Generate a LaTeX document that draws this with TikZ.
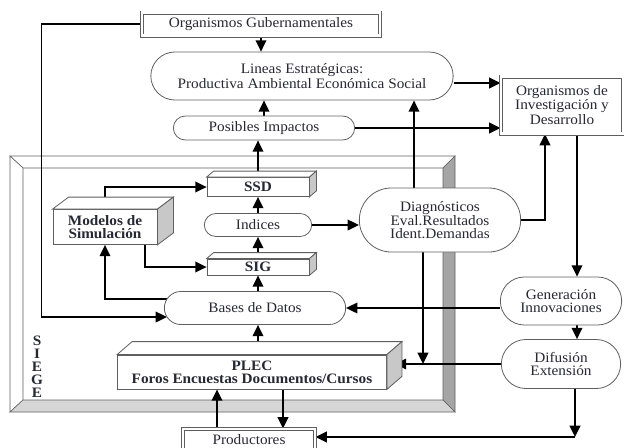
\documentclass[tikz,border=0pt]{standalone}
\usepackage{fontspec}
\setmainfont{Liberation Serif}[FakeStretch=1.06]
\usetikzlibrary{shapes.misc, arrows.meta, calc, backgrounds}
\definecolor{inktext}{RGB}{40,40,52}
\definecolor{edgegray}{RGB}{95,95,95}
\definecolor{sidegray}{RGB}{200,200,200}
\definecolor{bargray}{RGB}{165,165,165}
\definecolor{basegray}{RGB}{214,214,214}
\newlength{\pxu}
\setlength{\pxu}{0.75pt}
\newcommand{\diagfont}{\fontsize{10.8}{9.8}\selectfont}
% front face is the node, top and side faces are added here
\newcommand{\cubesides}[3]{%
  \draw[draw=edgegray, fill=white, line width=0.6pt] (#1.north west) -- ++(#2,-#3) -- ($(#1.north east)+(#2,-#3)$) -- (#1.north east) -- cycle;
  \draw[draw=edgegray, fill=sidegray, line width=0.6pt] (#1.north east) -- ++(#2,-#3) -- ($(#1.south east)+(#2,-#3)$) -- (#1.south east) -- cycle;
}
\tikzset{
  arr/.style={-{Triangle[length=8.5pt,width=8pt]}, line width=1.2pt},
  pill/.style={rounded rectangle, draw=edgegray, fill=white, line width=0.6pt, inner sep=1pt, align=center, text=inktext, font=\diagfont},
  dblbox/.style={draw=edgegray, double=white, double distance=1.6pt, line width=0.7pt, fill=white, inner sep=1pt, align=center, text=inktext, font=\diagfont},
  cubefront/.style={draw=edgegray, fill=white, line width=0.6pt, inner sep=1pt, align=center, text=inktext, font=\diagfont\bfseries},
}
\begin{document}
\begin{tikzpicture}[x=\pxu, y=-\pxu]
    \useasboundingbox (0,0) rectangle (624,447);

    % SIEGE frame
    \begin{scope}[on background layer]
        \draw[edgegray, fill=white] (10,156) -- (455,156) -- (443,168) -- (23,168) -- cycle;
        \draw[edgegray, fill=white] (10,156) -- (23,168) -- (23,400) -- (10,412) -- cycle;
        \draw[edgegray, fill=bargray] (455,156) -- (455,412) -- (443,400) -- (443,168) -- cycle;
        \draw[edgegray, fill=basegray] (10,412) -- (455,412) -- (443,400) -- (23,400) -- cycle;
    \end{scope}
    \node[font=\diagfont\bfseries, text=inktext, align=center, inner sep=0pt] (siege) at (37,367) {S\\I\\E\\G\\E};

    \node[dblbox, minimum width=238\pxu, minimum height=23\pxu] (orggub) at (261,24) {Organismos Gubernamentales};
    \node[pill, minimum width=305\pxu, minimum height=48\pxu] (lineas) at (302,76) {Lineas Estratégicas:\\Productiva Ambiental Económica Social};
    \node[pill, minimum width=184\pxu, minimum height=24\pxu] (posibles) at (264,128) {Posibles Impactos};
    \node[dblbox, minimum width=122\pxu, minimum height=57\pxu] (orginv) at (562,105) {Organismos de\\Investigación y\\Desarrollo};

    \node[cubefront, minimum width=102\pxu, minimum height=19\pxu] (ssd) at (258,187) {SSD};
    \cubesides{ssd}{7}{6}
    \node[pill, minimum width=110\pxu, minimum height=23\pxu] (indices) at (258,225) {Indices};
    \node[cubefront, minimum width=102\pxu, minimum height=16\pxu] (sig) at (258,267) {SIG};
    \cubesides{sig}{7}{6}
    \node[cubefront, minimum width=104\pxu, minimum height=35\pxu] (modelos) at (105,227) {Modelos de\\Simulación};
    \cubesides{modelos}{16}{12}
    \node[pill, minimum width=184\pxu, minimum height=33\pxu] (bases) at (255,308) {Bases de Datos};
    \node[cubefront, minimum width=269\pxu, minimum height=34\pxu] (plec) at (252,372) {PLEC\\Foros Encuestas Documentos/Cursos};
    \cubesides{plec}{15}{13}
    \node[dblbox, minimum width=132\pxu, minimum height=22\pxu] (prod) at (249,440) {Productores};

    \node[pill, minimum width=164\pxu, minimum height=64\pxu] (diag) at (440,220) {Diagnósticos\\Eval.Resultados\\Ident.Demandas};
    \node[pill, minimum width=124\pxu, minimum height=48\pxu] (gen) at (561,301) {Generación\\Innovaciones};
    \node[pill, minimum width=122\pxu, minimum height=49\pxu] (dif) at (561,364) {Difusión\\Extensión};

    \coordinate (linout) at ($(lineas.east)+(0,7)$);
    \coordinate (produp) at ($(prod.north)+(-32,0)$);
    \coordinate (proddown) at ($(prod.north)+(34,0)$);
    \coordinate (diagup) at ($(diag.north)+(-26,0)$);
    \coordinate (diagdown) at ($(diag.south)+(-17,0)$);
    \coordinate (invin) at ($(orginv.south)+(-17,0)$);
    \coordinate (invout) at ($(orginv.south)+(15,0)$);
    \coordinate (genout) at ($(gen.south)+(16,0)$);
    \coordinate (plecface) at ($(plec.east)+(8,0)$);
    \coordinate (bend) at (575,437);

    \begin{scope}[on background layer]
        \draw[arr] (orggub.south) -- (orggub.south |- lineas.north);
        \draw[arr] (posibles.north) -- (posibles.north |- lineas.south);
        \draw[arr] (ssd.north) -- (ssd.north |- posibles.south);
        \draw[arr] (indices.north) -- (indices.north |- ssd.south);
        \draw[arr] (sig.north) -- (sig.north |- indices.south);
        \draw[arr] (sig.south |- bases.north) -- (sig.south);
        \draw[arr] (sig.south |- plec.north) -- (sig.south |- bases.south);
        \draw[arr] (modelos.north) |- (ssd.west);
        \draw[arr] ($(modelos.south)+(40,0)$) |- (sig.west);
        \draw[arr] ($(bases.west)+(10,-9)$) -| (modelos.south);
        \draw[arr] (orggub.west) -- ++(-100,0) |- ($(bases.west)+(3,9)$);
        \draw[arr] (produp) -- (produp |- plec.south);
        \draw[arr] (proddown |- plec.south) -- (proddown);
        \draw[arr] (indices.east) -- (indices.east -| diag.west);
        \draw[arr] (diagup) -- (diagup |- lineas.south);
        \draw[arr] (diag.east) -| (invin);
        \draw[arr] (invout) -- (invout |- gen.north);
        \draw[arr] (linout) -- (linout -| orginv.west);
        \draw[arr] (posibles.east) -- (posibles.east -| orginv.west);
        \draw[arr] (bases.east -| gen.west) -- (bases.east);
        \draw[arr] (genout) -- (genout |- dif.north);
        \draw[arr] (dif.west) -- (dif.west -| plecface);
        \draw[arr] (diagdown) -- (diagdown |- dif.west);
        \draw[arr] (dif.south -| bend) -- (bend);
        \draw[arr] (bend) -- (bend -| prod.east);
    \end{scope}
\end{tikzpicture}
\end{document}
